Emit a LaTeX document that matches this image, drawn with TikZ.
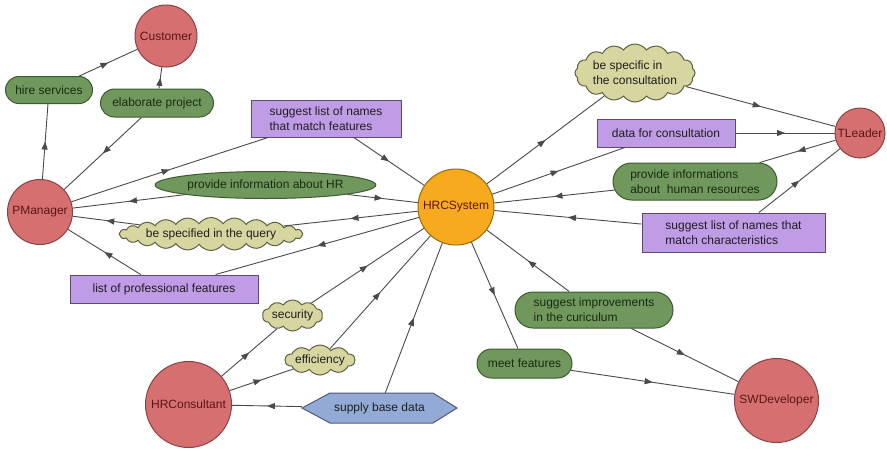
\documentclass[tikz,border=0pt]{standalone}
\usepackage{fontspec}
\setmainfont{Liberation Sans}
\usetikzlibrary{shapes.geometric,shapes.misc,shapes.symbols,decorations.markings,arrows.meta}

\definecolor{actorfill}{HTML}{D67070}
\definecolor{actorline}{HTML}{8A4242}
\definecolor{actortext}{HTML}{5A1616}
\definecolor{sysfill}{HTML}{F8AA1E}
\definecolor{sysline}{HTML}{9A6A10}
\definecolor{goalfill}{HTML}{70985C}
\definecolor{goalline}{HTML}{3D5A30}
\definecolor{goaltext}{HTML}{1A2A12}
\definecolor{resfill}{HTML}{C09CE6}
\definecolor{resline}{HTML}{5A4A7A}
\definecolor{softfill}{HTML}{D8D6A0}
\definecolor{softline}{HTML}{606040}
\definecolor{hexfill}{HTML}{94AAD6}
\definecolor{hexline}{HTML}{505A7A}
\definecolor{linkgray}{HTML}{4A4A4A}
\definecolor{labeltext}{HTML}{1E1E1E}

\begin{document}
\begin{tikzpicture}[x=1pt,y=-1pt,
  every node/.style={font=\fontsize{12}{15}\selectfont, inner sep=0pt, text=labeltext},
  actor/.style={circle, draw=actorline, fill=actorfill, line width=1pt,
    text=actortext, minimum size=#1},
  sysactor/.style={circle, draw=sysline, fill=sysfill, line width=1pt,
    text=actortext, minimum size=#1},
  goal/.style n args={2}{rounded rectangle, draw=goalline, fill=goalfill, line width=1pt,
    text=goaltext, minimum width=#1, minimum height=#2, align=left},
  goalell/.style n args={2}{ellipse, draw=goalline, fill=goalfill, line width=1pt,
    text=goaltext, minimum width=#1, minimum height=#2},
  resource/.style n args={2}{rectangle, draw=resline, fill=resfill, line width=1pt,
    minimum width=#1, minimum height=#2, align=left},
  soft/.style n args={3}{cloud, cloud puffs=#3, cloud puff arc=110, cloud ignores aspect,
    draw=softline, fill=softfill, line width=1pt, minimum width=#1, minimum height=#2,
    align=left},
  link/.style={draw=linkgray, line width=0.9pt, postaction={decorate},
    decoration={markings,
      mark=at position 0.5 with {\arrow{Triangle[length=8pt,width=6pt]}}}}
]

% canvas
\path[fill=white] (0,0) rectangle (887,448);
\useasboundingbox (0,0) rectangle (887,448);

% hexagon behind the "supply base data" label
\draw[fill=hexfill, draw=hexline, line width=1pt]
  (302,408) -- (330,393) -- (433,393) -- (457,408) -- (433,423) -- (330,423) -- cycle;

% actors
\node[actor=62] (cust) at (166,36) {Customer};
\node[actor=65] (pm) at (40,212) {PManager};
\node[sysactor=76] (sys) at (456,207) {HRCSystem};
\node[actor=50] (tl) at (860,133) {TLeader};
\node[actor=86] (hrc) at (188.5,404.5) {HRConsultant};
\node[actor=84] (swd) at (776.5,400.5) {SWDeveloper};

% goals
\node[goal={87}{27}] (hire) at (49,90) {hire services};
\node[goal={113}{28}] (elab) at (157,103) {elaborate project};
\node[goalell={195}{27}] (provhr) at (265.5,185) {provide information about HR};
\node[goal={164}{37}] (provhum) at (695,181.5) {provide informations\\about\ \ human resources};
\node[goal={158}{36}] (sugimp) at (594,310) {suggest improvements\\in the curiculum};
\node[goal={95}{29}] (meet) at (524.5,363.5) {meet features};

% resources
\node[resource={150}{37}] (sugf) at (326,118.5) {suggest list of names\\that match features};
\node[resource={188}{28}] (listf) at (164,289) {list of professional features};
\node[resource={138}{28}] (data) at (666,133) {data for consultation};
\node[resource={183}{39}] (sugc) at (733.5,232.5) {suggest list of names that\\match characteristics};

% softgoals
\node[soft={177}{33}{24}] (query) at (211,234) {be specified in the query};
\node[soft={116}{58}{16}] (specific) at (635,73) {be specific in\\the consultation};
\node[soft={60}{31}{10}] (secur) at (292.5,315.5) {security};
\node[soft={68}{30}{10}] (effic) at (320,360) {efficiency};

% supply base data (outline drawn above)
\node[minimum width=155, minimum height=30] (supply) at (379.5,408) {supply base data};

% dependency links
\path[link] (pm) -- (hire);
\path[link] (hire) -- (cust);
\path[link] (elab) -- (cust);
\path[link] (elab) -- (pm);
\path[link] (pm) -- (sugf);
\path[link] (sugf) -- (sys);
\path[link] (provhr) -- (pm);
\path[link] (provhr) -- (sys);
\path[link] (sys) -- (query);
\path[link] (query) -- (pm);
\path[link] (sys) -- (listf);
\path[link] (listf) -- (pm);
\path[link] (sys) -- (specific);
\path[link] (specific) -- (tl);
\path[link] (sys) -- (data);
\path[link] (data) -- (tl);
\path[link] (tl) -- (provhum);
\path[link] (provhum) -- (sys);
\path[link] (sugc) -- (tl);
\path[link] (sugc) -- (sys);
\path[link] (hrc) -- (secur);
\path[link] (secur) -- (sys);
\path[link] (hrc) -- (effic);
\path[link] (effic) -- (sys);
\path[link] (supply) -- (hrc);
\path[link] (supply) -- (sys);
\path[link] (sys) -- (meet);
\path[link] (meet) -- (swd);
\path[link] (sugimp) -- (sys);
\path[link] (sugimp) -- (swd);
\end{tikzpicture}
\end{document}
